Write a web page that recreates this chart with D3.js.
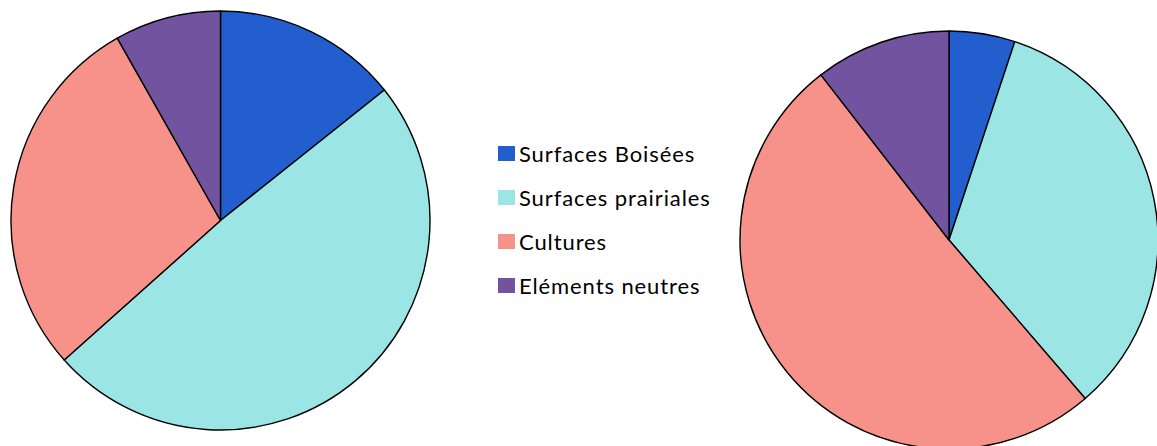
<!DOCTYPE html>
<meta charset="utf-8">
<style>
body { margin: 0; background: #fff; }
</style>
<svg width="1157" height="446"></svg>
<script src="https://d3js.org/d3.v7.min.js"></script>
<script>

var categories = ["Surfaces Boisées", "Surfaces prairiales", "Cultures", "Eléments neutres"];
var leftValues = [14.3, 49.1, 28.4, 8.2];
var rightValues = [5.1, 33.6, 50.8, 10.5];
var colors = ["#225ece", "#9be5e5", "#f6928a", "#7153a0"];

var svg = d3.select("svg");

var color = d3.scaleOrdinal().domain(categories).range(colors);

var pie = d3.pie().sort(null).value(function(d) { return d.value; });

function drawPie(values, cx, cy, r) {
  var data = categories.map(function(c, i) { return { name: c, value: values[i] }; });
  var arc = d3.arc().innerRadius(0).outerRadius(r);
  svg.append("g")
      .attr("transform", "translate(" + cx + "," + cy + ")")
    .selectAll("path")
    .data(pie(data))
    .enter().append("path")
      .attr("d", arc)
      .attr("fill", function(d) { return color(d.data.name); })
      .attr("stroke", "#000")
      .attr("stroke-width", 1.4)
      .attr("stroke-linejoin", "round");
}

drawPie(leftValues, 220.5, 220.5, 209.5);
drawPie(rightValues, 949, 240, 209);

var legend = svg.append("g")
    .attr("font-family", "Lato, 'Open Sans', sans-serif")
    .attr("font-size", 22)
    .attr("letter-spacing", 0.9)
    .attr("fill", "#000")
  .selectAll("g")
  .data(categories)
  .enter().append("g")
    .attr("transform", function(d, i) { return "translate(498," + (154 + i * 44) + ")"; });

legend.append("rect")
    .attr("x", 0)
    .attr("y", -8)
    .attr("width", 17)
    .attr("height", 15)
    .attr("fill", function(d) { return color(d); });

legend.append("text")
    .attr("x", 21)
    .attr("y", 8)
    .text(function(d) { return d; });

</script>
